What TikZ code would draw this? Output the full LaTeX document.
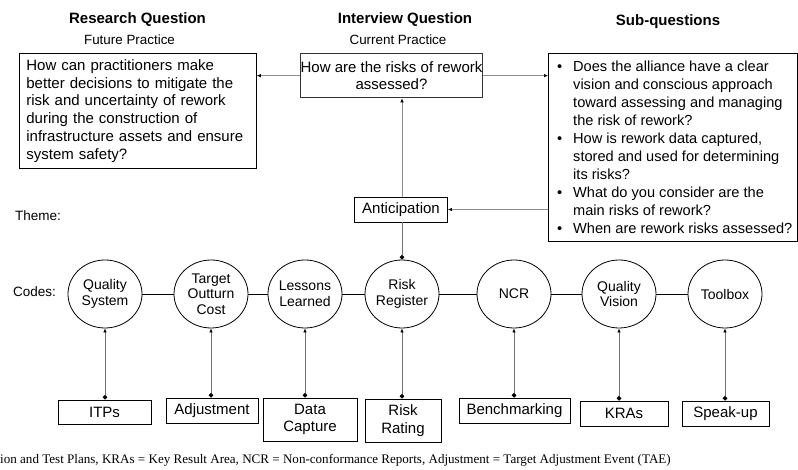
\documentclass[tikz,border=0pt]{standalone}
\usepackage{fontspec}
\setmainfont{Liberation Sans}
\newfontfamily\footserif{Liberation Serif}
\usetikzlibrary{arrows.meta,shapes.geometric}
\begin{document}
\begin{tikzpicture}[x=1pt,y=-1pt,
  txtbox/.style={draw=black, line width=0.8pt, inner sep=0pt, font=\fontsize{15}{17.7}\selectfont},
  code/.style={ellipse, draw, line width=0.8pt, minimum width=74pt, minimum height=68pt, inner sep=0pt, align=center, font=\fontsize{14}{15.7}\selectfont},
  srcbox/.style={draw, line width=0.8pt, inner sep=0pt, align=center, font=\fontsize{15}{17.5}\selectfont},
  head/.style={font=\bfseries\fontsize{15}{17}\selectfont, inner sep=0pt},
  subhead/.style={font=\fontsize{13.4}{15}\selectfont, inner sep=0pt},
  lbl/.style={font=\fontsize{13.5}{16}\selectfont, inner sep=0pt, anchor=west},
  garrow/.style={draw=black!45, line width=0.7pt, -{Latex[length=4pt,width=3.5pt,color=black]}},
  feed/.style={draw=black!55, line width=0.7pt, {Circle[length=4.5pt,color=black]}-{Latex[length=4pt,width=3.5pt,color=black]}},
  dotline/.style={draw=black!55, line width=0.7pt, -{Circle[length=4.5pt,color=black]}},
  link/.style={draw, line width=0.8pt}
]
\useasboundingbox (0,0) rectangle (798,470);

% headers
\node[head] (h1) at (137.5,20) {Research Question};
\node[subhead] (s1) at (129.5,40) {Future Practice};
\node[head] (h2) at (405,20) {Interview Question};
\node[subhead] (s2) at (398,40) {Current Practice};
\node[head] (h3) at (668,22) {Sub-questions};

% top boxes
\node[txtbox, anchor=north west, minimum width=237pt, minimum height=115pt, text width=223pt, align=left] (rq) at (19,53)
 {How can practitioners make\\better decisions to mitigate the\\risk and uncertainty of rework\\during the construction of\\infrastructure assets and ensure\\system safety?};
\node[txtbox, draw=black!80, line width=1.3pt, anchor=north west, minimum width=143pt, minimum height=44pt, align=center] (iq) at (300,53)
 {How are the risks of rework\\assessed?};
\node[txtbox, anchor=north west, minimum width=249pt, minimum height=188pt] (sq) at (548,53) {};
\node[inner sep=0pt, anchor=west, align=left, font=\fontsize{14.6}{18}\selectfont] (sqt) at ([xshift=9pt]sq.west)
 {\makebox[16pt][l]{\textbullet}Does the alliance have a clear\\
  \hspace*{16pt}vision and conscious approach\\
  \hspace*{16pt}toward assessing and managing\\
  \hspace*{16pt}the risk of rework?\\
  \makebox[16pt][l]{\textbullet}How is rework data captured,\\
  \hspace*{16pt}stored and used for determining\\
  \hspace*{16pt}its risks?\\
  \makebox[16pt][l]{\textbullet}What do you consider are the\\
  \hspace*{16pt}main risks of rework?\\
  \makebox[16pt][l]{\textbullet}When are rework risks assessed?};

% theme
\node[lbl] (theme) at (15,216) {Theme:};
\node[txtbox, minimum width=93pt, minimum height=25pt] (ant) at (401,209.5) {Anticipation};

% codes
\node[lbl] (codes) at (13,292) {Codes:};
\node[code] (c1) at (105,294) {Quality\\System};
\node[code] (c2) at (211,294) {Target\\Outturn\\Cost};
\node[code] (c3) at (305,294) {Lessons\\Learned};
\node[code] (c4) at (402,294) {Risk\\Register};
\node[code] (c5) at (514,294) {NCR};
\node[code] (c6) at (619,294) {Quality\\Vision};
\node[code] (c7) at (725,294) {Toolbox};

\foreach \a/\b in {c1/c2,c2/c3,c3/c4,c4/c5,c5/c6,c6/c7}
  \draw[link] (\a.east) -- (\b.west);

% bottom boxes
\node[srcbox, minimum width=93pt, minimum height=24pt] (b1) at (104.5,412) {ITPs};
\node[srcbox, minimum width=92pt, minimum height=25pt] (b2) at (212,410.5) {Adjustment};
\node[srcbox, minimum width=94pt, minimum height=43pt] (b3) at (310,419.5) {Data\\Capture};
\node[srcbox, minimum width=76pt, minimum height=43pt] (b4) at (403,420.5) {Risk\\Rating};
\node[srcbox, minimum width=111pt, minimum height=25pt] (b5) at (514.5,410.5) {Benchmarking};
\node[srcbox, minimum width=88pt, minimum height=25pt] (b6) at (624,413.5) {KRAs};
\node[srcbox, minimum width=87pt, minimum height=25pt] (b7) at (725.5,413.5) {Speak-up};

\foreach \i in {1,...,7}
  \draw[feed] (c\i.south |- b\i.north) -- (c\i.south);

% question connectors
\draw[garrow] (iq.west) -- (rq.east |- iq.west);
\draw[garrow] (iq.east) -- (sq.west |- iq.east);
\draw[garrow] (sq.west |- ant.east) -- (ant.east);
\draw[garrow] (c4.north |- ant.north) -- (c4.north |- iq.south);
\draw[dotline] (c4.north |- ant.south) -- (c4.north);

% footnote
\node[font=\footserif\fontsize{13.07}{15}\selectfont, inner sep=0pt, anchor=west] (fn) at (0,460)
 {ion and Test Plans, KRAs = Key Result Area, NCR = Non-conformance Reports, Adjustment = Target Adjustment Event (TAE)};
\end{tikzpicture}
\end{document}
